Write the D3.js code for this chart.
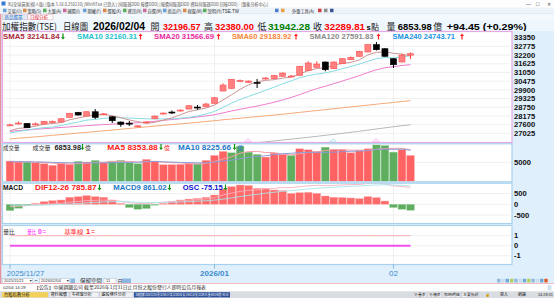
<!DOCTYPE html>
<html><head><meta charset="utf-8">
<script src="https://cdn.jsdelivr.net/npm/d3@7"></script>
<style>body{margin:0;background:#fff;overflow:hidden}svg{display:block}</style>
</head><body>
<svg id="c" width="554" height="298"></svg>
<script>
// ---------------- DATA ----------------
const dates = ["2025/11/27","2025/11/28","2025/12/01","2025/12/02","2025/12/03","2025/12/04","2025/12/05","2025/12/08","2025/12/09","2025/12/10","2025/12/11","2025/12/12","2025/12/15","2025/12/16","2025/12/17","2025/12/18","2025/12/19","2025/12/22","2025/12/23","2025/12/24","2025/12/26","2025/12/29","2025/12/30","2025/12/31","2026/01/02","2026/01/05","2026/01/06","2026/01/07","2026/01/08","2026/01/09","2026/01/12","2026/01/13","2026/01/14","2026/01/15","2026/01/16","2026/01/19","2026/01/20","2026/01/21","2026/01/22","2026/01/23","2026/01/26","2026/01/27","2026/01/28","2026/01/29","2026/01/30","2026/02/02","2026/02/03","2026/02/04"];
const open  = [27551,27650,27683,27617,27637,27770,27770,28081,28412,28167,28451,28259,28120,27770,27697,27465,27717,27988,28299,28432,28498,28630,28763,28782,29008,29822,30000,30444,30398,30391,30616,30649,30795,30775,30861,31192,31391,31742,31298,31629,31894,32119,32404,32887,32622,31960,31742,32196.57];
const high  = [27657,27803,27703,27736,27849,27869,28021,28379,28445,28485,28630,28365,28154,27803,27836,27551,27823,28200,28398,28531,28597,28882,28895,29041,29411,30331,30616,30583,30517,30616,30749,30894,31046,30881,31490,31788,31788,31775,31775,31993,32106,32483,32920,33066,32655,31993,32304,32380.00];
const low   = [27505,27604,27372,27551,27604,27717,27750,28061,28200,28147,27968,28220,27703,27458,27505,27419,27683,27968,28266,28299,28465,28610,28584,28763,28988,29802,29981,30418,30365,30020,30583,30616,30775,30749,30841,31146,31371,31126,31278,31609,31874,32099,32384,32503,32099,31344,31722,31942.28];
const close = [27584,27703,27392,27650,27816,27809,27988,28345,28233,28451,28081,28312,27856,27617,27670,27518,27776,28167,28365,28392,28564,28849,28730,28964,29378,30219,30596,30510,30484,30358,30682,30848,31013,30815,31457,31675,31609,31232,31742,31960,32053,32450,32887,32556,32119,31563,32195,32289.81];

const sma5   = [27200,27350,27400,27500,27629,27674,27731,27922,28038,28165,28220,28284,28187,28063,27907,27795,27687,27750,27899,28044,28253,28467,28580,28700,28897,29228,29577,29933,30237,30433,30526,30576,30677,30743,30963,31162,31314,31358,31543,31644,31719,31887,32218,32381,32413,32315,32264,32141.84];
const sma10  = [27050,27150,27230,27330,27400,27437,27540,27661,27769,27897,27947,28008,28055,28051,28036,28008,27986,27969,27981,27976,28024,28077,28165,28300,28471,28741,29022,29257,29469,29665,29877,30077,30305,30490,30698,30844,30945,31018,31143,31304,31441,31601,31788,31962,32029,32017,32076,32160.31];
const sma20  = [27150,27200,27250,27290,27330,27370,27410,27450,27490,27530,27570,27600,27630,27660,27690,27720,27760,27820,27880,27936,27985,28043,28109,28175,28253,28374,28504,28612,28725,28820,28950,29077,29235,29395,29584,29792,29984,30137,30306,30484,30659,30839,31047,31226,31363,31430,31510,31566.69];
const sma60  = [26650,26700,26745,26790,26840,26890,26940,26990,27040,27090,27140,27190,27240,27290,27345,27400,27450,27500,27550,27600,27650,27700,27750,27810,27860,27920,27970,28020,28075,28125,28180,28230,28290,28350,28410,28470,28530,28590,28650,28710,28770,28830,28890,28950,29010,29065,29125,29183.92];
const sma120 = [24900,24950,25000,25050,25100,25150,25200,25250,25300,25350,25400,25450,25500,25550,25600,25650,25700,25750,25800,25850,25900,25955,26010,26060,26115,26170,26225,26280,26340,26400,26460,26520,26580,26640,26700,26760,26825,26890,26955,27020,27090,27160,27235,27310,27385,27460,27525,27591.83];
const sma240 = [23900,23918,23936,23954,23972,23990,24008,24026,24044,24062,24080,24098,24116,24134,24152,24170,24188,24206,24224,24242,24260,24278,24296,24314,24332,24350,24368,24386,24404,24422,24440,24458,24476,24494,24512,24530,24548,24566,24584,24602,24620,24638,24656,24674,24692,24710,24728,24743.71];

const volume = [5360,5096,5096,4921,4657,4218,4657,4481,5272,5096,5536,4921,5360,5536,4921,4657,5799,5360,4394,4394,4481,4657,4657,5536,6854,7908,7557,9314,7733,7117,6414,7469,7117,6854,8611,8347,7908,9050,8347,8347,7557,8084,8611,9665,9490,7733,8347,6853.98];
const volUp  = [1,1,0,1,1,1,1,1,0,1,0,1,0,0,0,0,1,1,1,1,1,1,0,1,1,1,0,0,0,0,1,1,1,0,1,1,1,0,1,1,1,1,1,0,0,0,1,1];
const volMA5  = [5300,5200,5150,5080,5026,4798,4710,4587,4657,4745,5008,5061,5237,5290,5255,5079,5255,5255,5026,4921,4886,4657,4517,4745,5237,5922,6502,7434,7873,7926,7627,7609,7170,6994,7293,7680,7767,8154,8453,8400,8242,8277,8189,8453,8681,8717,8769,8353.88];
const volMA10 = [5200,5180,5150,5100,5080,5000,4950,4900,4890,4886,4903,4886,4912,4974,5000,5044,5158,5246,5158,5088,4983,4956,4886,4886,5079,5404,5580,5976,6309,6582,6775,7056,7302,7434,7610,7654,7688,7662,7724,7847,7961,8022,8172,8453,8541,8480,8523,8225.66];

const dif   = [-112,-95,-65,-34,-4,20,41,97,129,170,181,195,174,135,72,35,30,69,96,126,160,188,216,251,308,431,516,596,648,664,714,738,772,773,818,860,881,874,880,897,912,921,970,979,947,854,818,785.87];
const macd9 = [-33,-45,-49,-46,-38,-26,-13,9,33,61,85,107,120,123,113,97,84,81,84,92,106,122,141,163,192,240,295,355,414,464,514,559,601,636,672,710,744,770,792,813,833,850,874,895,906,895,880,861.02];
const osc   = [-79,-50,-16,12,34,46,54,88,96,109,96,88,54,12,-41,-62,-54,-12,12,34,54,66,75,88,116,191,221,241,234,200,200,179,171,137,146,150,137,104,88,84,79,71,96,84,41,-41,-62,-75.15];

const volRatio = [0,0,0,0,0,0,0,0,0,0,0,0,0,0,0,0,0,0,0,0,0,0,0,0,0,0,0,0,0,0,0,0,0,0,0,0,0,0,0,0,0,0,0,0,0,0,0,0];
const baseLine = [1,1,1,1,1,1,1,1,1,1,1,1,1,1,1,1,1,1,1,1,1,1,1,1,1,1,1,1,1,1,1,1,1,1,1,1,1,1,1,1,1,1,1,1,1,1,1,1];

const priceTicks = [27025,27600,28175,28750,29325,29900,30475,31050,31625,32200,32775,33350];
const volTicks = [5000];
const macdTicks = [500,0,-500];
const ratioTicks = [1,0,-1];
const dateTickIdx = [0,24,45];
const dateTickText = ["2025/11/27","2026/01","02"];

// ---------------- SETUP ----------------
const svg = d3.select("#c");
const SANS = "'Liberation Sans', Arial, 'Noto Sans CJK TC', sans-serif";
const CJK = "'Noto Sans CJK TC', 'Liberation Sans', sans-serif";
function T(x, y, s, o = {}) {
  const t = svg.append("text").attr("x", x).attr("y", y).text(s)
    .attr("font-size", o.fs || 8).attr("fill", o.c || "#000")
    .attr("font-weight", o.w || "normal").attr("font-family", o.f || SANS);
  if (o.len) t.attr("textLength", o.len).attr("lengthAdjust", "spacingAndGlyphs");
  if (o.a) t.attr("text-anchor", o.a);
  return t;
}
function arrow(x, yc, up, color) {
  const p = up
    ? `M${x},${yc-3}L${x+2},${yc-0.6}L${x+0.6},${yc-0.6}L${x+0.6},${yc+3}L${x-0.6},${yc+3}L${x-0.6},${yc-0.6}L${x-2},${yc-0.6}Z`
    : `M${x},${yc+3}L${x+2},${yc+0.6}L${x+0.6},${yc+0.6}L${x+0.6},${yc-3}L${x-0.6},${yc-3}L${x-0.6},${yc+0.6}L${x-2},${yc+0.6}Z`;
  svg.append("path").attr("d", p).attr("fill", color);
}

// ---------------- CHROME ----------------
svg.append("rect").attr("x",0).attr("y",0).attr("width",554).attr("height",298).attr("fill","#ffffff");
// title bar
svg.append("rect").attr("x",0).attr("y",0).attr("width",554).attr("height",7.5).attr("fill","#fdfdfd");
svg.append("rect").attr("x",1.5).attr("y",1.5).attr("width",4).attr("height",4).attr("fill","#3a7bd5");
T(8,5.5,"XQ全球贏家(個人版) [版本 5.10.0.250210] [WinNT64 已登入] [伺服器DDD 報價DDD] [報價伺服器DDD 資料伺服器DDD 回報DDD] - [盤後分析中心]",{fs:4.2,c:"#555",f:CJK,len:260});
T(526,5.5,"—",{fs:5,c:"#444"}); T(536,5.8,"□",{fs:5.5,c:"#444"}); T(546.5,5.8,"✕",{fs:5,c:"#444"});
// toolbar
svg.append("rect").attr("x",0).attr("y",7.5).attr("width",554).attr("height",6.5).attr("fill","#eef3f9");
svg.append("line").attr("x1",0).attr("x2",554).attr("y1",14).attr("y2",14).attr("stroke","#c8d6e6").attr("stroke-width",0.5);
const tb = ["交易(O)","策略(S)","大盤(A)","國際(I)","期權(F)","選股(X)","資訊(N)","自選(M)","商品(P)","視窗(W)","說明(H)"];
tb.forEach((s,i)=>{ svg.append("rect").attr("x",3+i*20).attr("y",8.7).attr("width",3.5).attr("height",3.5).attr("fill",["#6aa0d8","#d88a4a","#5aae5a","#c86a9a"][i%4]);
  T(7.5+i*20,12.6,s,{fs:4.2,c:"#333",f:CJK}); });
T(222,12.6,"TSE.TW",{fs:4.5,c:"#333"});
svg.append("rect").attr("x",275).attr("y",8.7).attr("width",3.5).attr("height",3.5).attr("fill","#4a7ec8");
svg.append("rect").attr("x",281).attr("y",8.7).attr("width",3.5).attr("height",3.5).attr("fill","#e8a040");
T(292,12.6,"外盤工具(A)",{fs:4.2,c:"#333",f:CJK});
svg.append("rect").attr("x",318).attr("y",8.7).attr("width",3.5).attr("height",3.5).attr("fill","#d04040");
svg.append("rect").attr("x",324).attr("y",8.7).attr("width",3.5).attr("height",3.5).attr("fill","#909090");
svg.append("rect").attr("x",330).attr("y",8.7).attr("width",3.5).attr("height",3.5).attr("fill","#3b5998");
// tab row
svg.append("rect").attr("x",0).attr("y",14).attr("width",554).attr("height",6).attr("fill","#f4f9fd");
svg.append("rect").attr("x",2.5).attr("y",14.8).attr("width",25).attr("height",5).attr("fill","#dcecf8").attr("stroke","#e2a6b8").attr("stroke-width",0.5);
T(4.5,19,"商品選單",{fs:4.5,c:"#2a6cc0",f:CJK});
svg.append("rect").attr("x",28).attr("y",14.8).attr("width",25).attr("height",5).attr("fill","#ffffff").attr("stroke","#e2a6b8").attr("stroke-width",0.5);
T(30,19,"日線分析",{fs:4.5,c:"#e03040",f:CJK});
// header
svg.append("rect").attr("x",0).attr("y",20).attr("width",554).attr("height",11.5).attr("fill","#eef7fd");
T(2,29.6,"加權指數(TSE)",{fs:9.5,c:"#222",f:CJK,len:55});
T(63,29.6,"日線圖",{fs:9,c:"#222",f:CJK,len:25});
T(93,29.6,"2026/02/04",{fs:10,w:"bold",len:52});
T(150.5,29.6,"開",{fs:9,c:"#222",f:CJK});
T(163,29.6,"32196.57",{fs:9.6,w:"bold",c:"#ff0000",len:37.5});
T(204,29.6,"高",{fs:9,c:"#222",f:CJK});
T(215,29.6,"32380.00",{fs:9.6,w:"bold",c:"#ff0000",len:39});
T(257.5,29.6,"低",{fs:9,c:"#222",f:CJK});
T(268,29.6,"31942.28",{fs:9.6,w:"bold",c:"#008000",len:42});
T(313,29.6,"收",{fs:9,c:"#222",f:CJK});
T(324.3,29.6,"32289.81",{fs:9.6,w:"bold",c:"#ff0000",len:40.7});
T(366.5,29.6,"s",{fs:7.5,w:"bold"});
T(371,29.6,"點",{fs:8,c:"#222",f:CJK});
T(386.5,29.6,"量",{fs:9,c:"#222",f:CJK});
T(397.7,29.6,"6853.98",{fs:9.6,w:"bold",len:34});
T(433.3,29.6,"億",{fs:9,c:"#222",f:CJK});
T(446.7,29.6,"+94.45 (+0.29%)",{fs:9.6,w:"bold",len:80});

// chart background
svg.append("rect").attr("x",0).attr("y",31).attr("width",554).attr("height",252).attr("fill","#dfeffb");

// ---------------- SCALES ----------------
const N = close.length;
const x = d3.scaleLinear().domain([0, N-1]).range([10, 410.5]);
const yP = d3.scaleLinear().domain([27025, 33350]).range([133.3, 37.7]);
const yV = d3.scaleLinear().domain([0, 5000]).range([181.2, 162.4]);
const yM = d3.scaleLinear().domain([-500, 500]).range([215, 193.5]);
const yO = d3.scaleLinear().domain([-250, 250]).range([224.3, 184.3]);
const yR = d3.scaleLinear().domain([-1, 1]).range([255.7, 235.7]);

const panels = [
  {y0:31.5, y1:142.5, stroke:"#e6a8e6"},
  {y0:143.8, y1:181.8, stroke:"#a9d2ee"},
  {y0:183.2, y1:223.5, stroke:"#a9d2ee"},
  {y0:225.5, y1:264.5, stroke:"#a9d2ee"}
];
panels.forEach((p,k)=>{
  svg.append("rect").attr("x",2.5).attr("y",p.y0).attr("width",509.5).attr("height",p.y1-p.y0)
    .attr("fill","#ffffff").attr("stroke",p.stroke).attr("stroke-width",1.2);
  const cp = svg.append("clipPath").attr("id","cp"+k);
  cp.append("rect").attr("x",3).attr("y",p.y0+0.6).attr("width",508.5).attr("height",p.y1-p.y0-1.2);
});

// grid
const gridC = "#ececec";
function hgrid(ys){ ys.forEach(v=>svg.append("line").attr("x1",3).attr("x2",511.5).attr("y1",v).attr("y2",v).attr("stroke",gridC).attr("stroke-width",0.8)); }
hgrid(priceTicks.map(yP).filter(v=>v>40));
hgrid(volTicks.map(yV));
hgrid(macdTicks.map(yM));
hgrid(ratioTicks.map(yR));
panels.forEach(p=>{
  dateTickIdx.forEach(i=>svg.append("line").attr("x1",x(i)).attr("x2",x(i)).attr("y1",p.y0+1).attr("y2",p.y1-1).attr("stroke",gridC).attr("stroke-width",0.8));
});

// ---------------- MAIN: MA lines + candles ----------------
const gMain = svg.append("g").attr("clip-path","url(#cp0)");
const maDefs = [
  {d:sma240,c:"#2896e6"},{d:sma120,c:"#b8b8b8"},{d:sma60,c:"#f6a878"},
  {d:sma20,c:"#ee7ccc"},{d:sma10,c:"#86dde4"},{d:sma5,c:"#c89494"}
];
const ln = (arr, ys) => d3.line().x((d,i)=>x(i)).y(d=>ys(d))(arr);
maDefs.forEach(m=>gMain.append("path").attr("d",ln(m.d,yP)).attr("fill","none").attr("stroke",m.c).attr("stroke-width",1));

const cw = 6;
d3.range(N).forEach(i=>{
  const up = close[i] >= open[i];
  const col = up ? "#ff4848" : "#000000";
  gMain.append("line").attr("x1",x(i)).attr("x2",x(i)).attr("y1",yP(high[i])).attr("y2",yP(low[i])).attr("stroke",col).attr("stroke-width",1);
  const yt = yP(Math.max(open[i],close[i])), yb = yP(Math.min(open[i],close[i]));
  gMain.append("rect").attr("x",x(i)-cw/2).attr("y",yt).attr("width",cw).attr("height",Math.max(1,yb-yt))
    .attr("fill", up ? "#ff8080" : "#000").attr("stroke", up ? "#ff5050" : "#000").attr("stroke-width",0.6);
});
// small event markers at bottom of main panel
[[248,"#f2a0d8"],[333,"#9fdbe8"],[376,"#f2a0d8"]].forEach(([mx,c])=>{
  svg.append("path").attr("d",`M${mx-3.5},142 L${mx},139 L${mx+3.5},142Z`).attr("fill","none").attr("stroke",c).attr("stroke-width",0.8);
});

// main legend
const Ly = 39.3;
T(3,Ly,"SMA5 32141.84",{fs:7.8,w:"bold",c:"#a8283a",len:56.5}); arrow(63,Ly-2.7,false,"#109010");
T(77,Ly,"SMA10 32160.31",{fs:7.8,w:"bold",c:"#1cc2cc",len:60}); arrow(140.5,Ly-2.7,true,"#ff2020");
T(154,Ly,"SMA20 31566.69",{fs:7.8,w:"bold",c:"#e8289c",len:60}); arrow(218.5,Ly-2.7,true,"#ff2020");
T(232,Ly,"SMA60 29183.92",{fs:7.8,w:"bold",c:"#f5863a",len:59.5}); arrow(296,Ly-2.7,true,"#ff2020");
T(309.5,Ly,"SMA120 27591.83",{fs:7.8,w:"bold",c:"#8a8a8a",len:64}); arrow(378.5,Ly-2.7,true,"#ff2020");
T(392.5,Ly,"SMA240 24743.71",{fs:7.8,w:"bold",c:"#2092e4",len:62.5}); arrow(462,Ly-2.7,true,"#ff2020");

// ---------------- VOLUME ----------------
const gVol = svg.append("g").attr("clip-path","url(#cp1)");
d3.range(N).forEach(i=>{
  gVol.append("rect").attr("x",x(i)-3.9).attr("y",yV(volume[i])).attr("width",7.8).attr("height",yV(0)-yV(volume[i]))
    .attr("fill", volUp[i] ? "#ff6262" : "#5fae5f").attr("stroke", volUp[i] ? "#ffb0b0" : "#a8d8a8").attr("stroke-width",0.4);
});
gVol.append("path").attr("d",ln(volMA5,yV)).attr("fill","none").attr("stroke","#f6a0a8").attr("stroke-width",1);
gVol.append("path").attr("d",ln(volMA10,yV)).attr("fill","none").attr("stroke","#8c9cd8").attr("stroke-width",1);
const Vy = 149.6;
T(3,Vy,"成交量",{fs:5.8,c:"#333",f:CJK,len:16.5});
T(32.5,Vy,"成交量",{fs:5.8,c:"#333",f:CJK,len:18});
T(54.5,Vy,"6853.98",{fs:7.3,w:"bold",c:"#222",len:26.5}); arrow(82.5,Vy-2.5,false,"#109010");
T(85,Vy,"億",{fs:5.8,c:"#333",f:CJK});
T(107.3,Vy,"MA5 8353.88",{fs:7.3,w:"bold",c:"#ff2020",len:50.5}); arrow(161,Vy-2.5,false,"#109010");
T(164,Vy,"億",{fs:5.8,c:"#ff2020",f:CJK});
T(178,Vy,"MA10 8225.66",{fs:7.3,w:"bold",c:"#1e78c8",len:53}); arrow(234.5,Vy-2.5,false,"#109010");
T(237.5,Vy,"億",{fs:5.8,c:"#1e78c8",f:CJK});

// ---------------- MACD ----------------
const gM = svg.append("g").attr("clip-path","url(#cp2)");
d3.range(N).forEach(i=>{
  const y0 = yO(0), y1 = yO(osc[i]);
  gM.append("rect").attr("x",x(i)-3.9).attr("y",Math.min(y0,y1)).attr("width",7.8).attr("height",Math.max(0.8,Math.abs(y1-y0)))
    .attr("fill", osc[i]>=0 ? "#ff6a6a" : "#5fae5f").attr("stroke", osc[i]>=0 ? "#ffb4b4" : "#a8d8a8").attr("stroke-width",0.4);
});
gM.append("path").attr("d",ln(dif,yM)).attr("fill","none").attr("stroke","#f8b0c0").attr("stroke-width",0.9);
gM.append("path").attr("d",ln(macd9,yM)).attr("fill","none").attr("stroke","#a8e4ec").attr("stroke-width",0.9);
const My = 189.9;
T(3,My,"MACD",{fs:7.3,w:"bold",c:"#111",len:20});
T(35,My,"DIF12-26 785.87",{fs:7.3,w:"bold",c:"#ff2020",len:61.5}); arrow(99.5,My-2.5,false,"#109010");
T(113.3,My,"MACD9 861.02",{fs:7.3,w:"bold",c:"#1e78c8",len:53.3}); arrow(169.5,My-2.5,false,"#109010");
T(182.7,My,"OSC -75.15",{fs:7.3,w:"bold",c:"#1010d0",len:40}); arrow(225.5,My-2.5,false,"#109010");

// ---------------- VOLUME RATIO ----------------
const gR = svg.append("g").attr("clip-path","url(#cp3)");
gR.append("path").attr("d",ln(baseLine,yR)).attr("fill","none").attr("stroke","#ffaaaa").attr("stroke-width",1);
gR.append("path").attr("d",ln(volRatio,yR)).attr("fill","none").attr("stroke","#f050f0").attr("stroke-width",2);
const Ry = 233.5;
T(3.3,Ry,"量比",{fs:5.8,c:"#333",f:CJK,len:11.5});
T(27.2,Ry,"量比",{fs:5.6,c:"#ff30ff",f:CJK,len:9});
T(38,Ry,"0",{fs:7,w:"bold",c:"#ff30ff"});
T(42.5,Ry,"=",{fs:6.5,c:"#ff30ff"});
T(64.3,Ry,"基準線",{fs:5.8,c:"#ff2020",f:CJK,len:19});
T(86,Ry,"1",{fs:7.3,w:"bold",c:"#ff2020"});
T(91,Ry,"=",{fs:7,c:"#ff2020"});

// ---------------- RIGHT AXES ----------------
const AX = 514;
priceTicks.forEach(v=>T(AX,yP(v)+2.7,String(v),{fs:7.6,w:"bold",c:"#111"}));
volTicks.forEach(v=>T(AX,yV(v)+2.7,String(v),{fs:7.6,w:"bold",c:"#111"}));
macdTicks.forEach(v=>T(AX,yM(v)+2.7,String(v),{fs:7.6,w:"bold",c:"#111"}));
ratioTicks.forEach(v=>T(AX,yR(v)+2.7,String(v),{fs:7.6,w:"bold",c:"#111"}));

// ---------------- DATE AXIS ----------------
dateTickIdx.forEach((i,k)=>{
  svg.append("line").attr("x1",x(i)).attr("x2",x(i)).attr("y1",264.5).attr("y2",268.5).attr("stroke","#6aaee0").attr("stroke-width",0.8);
  const t = dateTickText[k];
  if (k===0) T(x(i)-3.3,276,t,{fs:8,c:"#3a8ad0",len:37.5});
  else T(x(i),276,t,{fs:8,c:"#3a8ad0",w:k===1?"bold":"normal",a:"middle"});
});

// ---------------- BOTTOM CONTROLS ----------------
svg.append("rect").attr("x",2.5).attr("y",278.5).attr("width",30).attr("height",4.8).attr("fill","#fff").attr("stroke","#9ab").attr("stroke-width",0.4);
T(4,282.3,"2025/11/21",{fs:4,c:"#333"}); T(29,282.4,"▼",{fs:3.5,c:"#333"});
T(34.5,282.3,"~",{fs:5,c:"#333"});
svg.append("rect").attr("x",39.5).attr("y",278.5).attr("width",30).attr("height",4.8).attr("fill","#fff").attr("stroke","#9ab").attr("stroke-width",0.4);
T(41,282.3,"2026/02/04",{fs:4,c:"#333"}); T(66,282.4,"▼",{fs:3.5,c:"#333"});
svg.append("rect").attr("x",70.5).attr("y",278.5).attr("width",4.5).attr("height",4.8).attr("fill","#8cb8e0");
T(80,282.8,"保留空間",{fs:5.5,c:"#333",f:CJK});
svg.append("rect").attr("x",104).attr("y",278.5).attr("width",12).attr("height",4.8).attr("fill","#fff").attr("stroke","#9ab").attr("stroke-width",0.4);
T(106,282.3,"11",{fs:4,c:"#333"});
T(117.5,282.8,"日",{fs:5,c:"#333",f:CJK});
svg.append("rect").attr("x",122).attr("y",278.5).attr("width",9).attr("height",4.8).attr("fill","#8cb8e0");
// right icons
d3.range(12).forEach(k=>svg.append("rect").attr("x",497+k*4.3).attr("y",278.8).attr("width",3.4).attr("height",3.6)
  .attr("fill", k===11 ? "#e05a2a" : ["#8fb8dc","#c8ddef","#6fa8d8","#b0d060"][k%4]));
svg.append("line").attr("x1",0).attr("x2",554).attr("y1",283.6).attr("y2",283.6).attr("stroke","#eaa0a8").attr("stroke-width",0.8);
// status row
svg.append("rect").attr("x",0).attr("y",284).attr("width",554).attr("height",7.3).attr("fill","#ffffff");
T(3,289.3,"02/04 14:29",{fs:4.3,c:"#333"});
T(34,289.3,"【公告】中國鋼鐵公司 截至2026年1月31日止月份之股份發行人即時公告月報表",{fs:4.3,c:"#333",f:CJK,len:172});
svg.append("rect").attr("x",547.5).attr("y",284.8).attr("width",4).attr("height",5.5).attr("fill","#cfe3f3");
// taskbar
svg.append("rect").attr("x",0).attr("y",291.3).attr("width",554).attr("height",6.7).attr("fill","#d9dde2");
svg.append("rect").attr("x",2).attr("y",292.2).attr("width",46).attr("height",5.2).attr("fill","#f2d05a");
T(4,296.3,"台股指數分析",{fs:4.3,c:"#222",f:CJK});
[["資料報價",49,20],["多視窗分析",70,29],["選股條件分析",100,33]].forEach(([s,xx,w])=>{
  svg.append("rect").attr("x",xx).attr("y",292.2).attr("width",w).attr("height",5.2).attr("fill","#eef0f3").attr("stroke","#aab").attr("stroke-width",0.3);
  T(xx+1.5,296.3,s,{fs:4.1,c:"#222",f:CJK});
});
svg.append("rect").attr("x",134).attr("y",292.2).attr("width",96).attr("height",5.2).attr("fill","#2c4f98");
T(135.5,296.2,"加權指數 2026/02/04 開 32196.57 高 32380.00 低 31942.28 收 32289.81 量 6853.98億 +94.45",{fs:3.5,c:"#fff",f:CJK,len:93});
[["分量表",413],["分價表",428],["即時明細",443],["主要指標",462]].forEach(([s,xx])=>{
  svg.append("rect").attr("x",xx).attr("y",292.2).attr("width",s.length*3.9+2).attr("height",5.2).attr("fill","#eef0f3").attr("stroke","#aab").attr("stroke-width",0.3);
  T(xx+1,296.3,s,{fs:3.9,c:"#222",f:CJK});
});
T(485,296.3,"🔒",{fs:4}); T(500,296.3,"登入",{fs:4,c:"#222",f:CJK});
T(518,296.3,"網路",{fs:4,c:"#222",f:CJK});
T(538,296.3,"14:28:31",{fs:3.8,c:"#222"});
// left frame line
svg.append("line").attr("x1",0.7).attr("x2",0.7).attr("y1",14).attr("y2",283.6).attr("stroke","#e48a98").attr("stroke-width",1.2);
</script>
</body></html>
